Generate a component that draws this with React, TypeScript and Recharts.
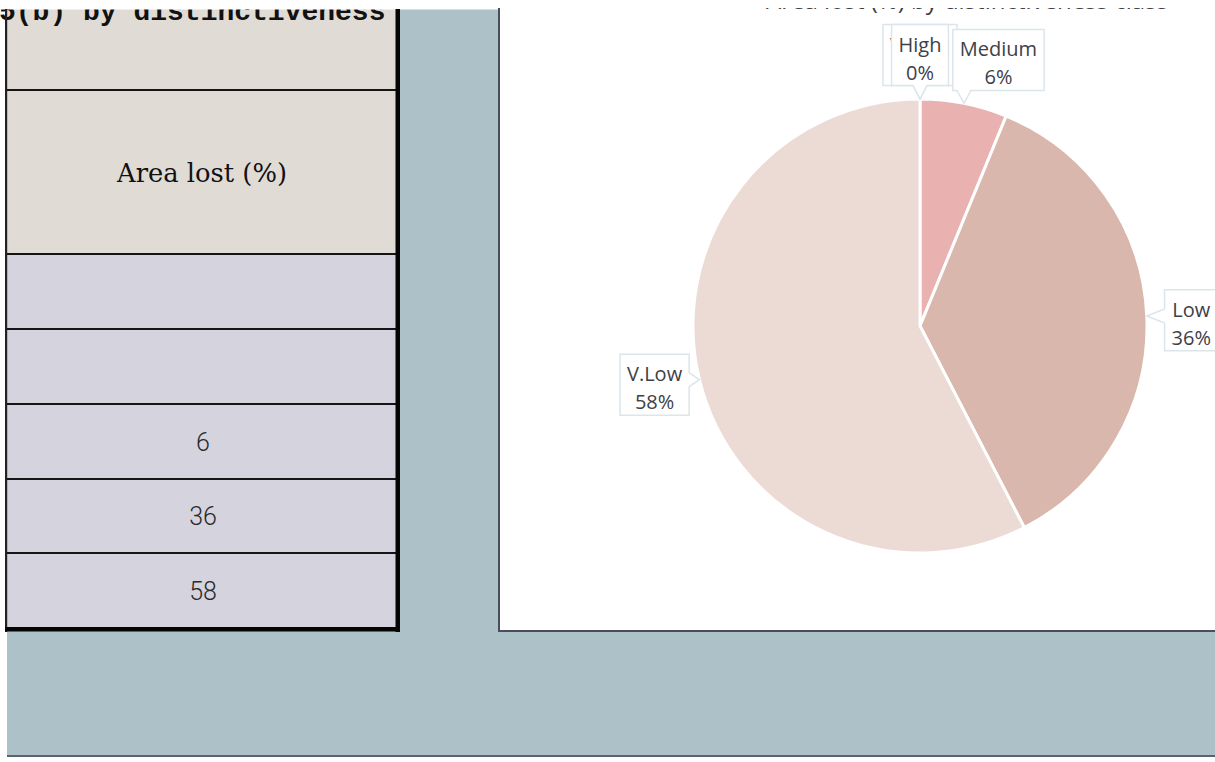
import React from 'react';
import { PieChart, Pie, Cell } from 'recharts';

// ---- data ----
const categories = ['V.High', 'High', 'Medium', 'Low', 'V.Low'];
const areaLost = [0, 0, 6.2, 36.2, 57.6];
const tableCells = ['', '', '6', '36', '58'];
const headerLabel = 'Area lost (%)';
const tableTitle = '5(b) by distinctiveness';
const chartTitle = 'Area lost (%) by distinctiveness class';

// ---- styles ----
const sliceColors = ['#c98f8e', '#e3a3a2', '#e9b1b0', '#d9b7ac', '#ecdbd5'];
const labelNudge: [number, number][] = [[0, -3], [0, -3], [25, 5], [6, 6], [5, -7]];
const LABEL_FONT_SIZE = 20;
const LABEL_FONT = `${LABEL_FONT_SIZE}px "Open Sans"`;

const chartData = categories.map((name, i) => ({ name, value: areaLost[i], fill: sliceColors[i] }));

let measureCtx: CanvasRenderingContext2D | null = null;
function textWidth(s: string): number {
  if (!measureCtx) {
    const c = document.createElement('canvas');
    measureCtx = c.getContext('2d');
  }
  if (!measureCtx) return s.length * LABEL_FONT_SIZE * 0.55;
  measureCtx.font = LABEL_FONT;
  return measureCtx.measureText(s).width;
}

const RAD = Math.PI / 180;

function calloutPath(L: number, T: number, R: number, B: number, tx: number, ty: number, half = 7): string {
  const clamp = (v: number, a: number, b: number) => Math.max(a, Math.min(b, v));
  if (ty > B) {
    const c = clamp(tx, L + half + 4, R - half - 4);
    return `M${L},${T}H${R}V${B}H${c + half}L${tx},${ty}L${c - half},${B}H${L}Z`;
  }
  if (ty < T) {
    const c = clamp(tx, L + half + 4, R - half - 4);
    return `M${L},${T}H${c - half}L${tx},${ty}L${c + half},${T}H${R}V${B}H${L}Z`;
  }
  if (tx < L) {
    const c = clamp(ty, T + half + 4, B - half - 4);
    return `M${L},${T}H${R}V${B}H${L}V${c + half}L${tx},${ty}L${L},${c - half}Z`;
  }
  const c = clamp(ty, T + half + 4, B - half - 4);
  return `M${L},${T}H${R}V${c - half}L${tx},${ty}L${R},${c + half}V${B}H${L}Z`;
}

function renderCallout(props: any) {
  const { cx, cy, midAngle, outerRadius, percent, index, name } = props;
  const pct = `${Math.round(percent * 100)}%`;
  const w = Math.max(textWidth(String(name)), textWidth(pct)) + 14;
  const h = 61;
  const dx = Math.cos(-midAngle * RAD);
  const dy = Math.sin(-midAngle * RAD);
  const tipX = cx + outerRadius * dx;
  const tipY = cy + outerRadius * dy;
  const dist = 10.5 + (Math.abs(dx) * w) / 2 + (Math.abs(dy) * h) / 2;
  const [nx, ny] = labelNudge[index] ?? [0, 0];
  const bx = tipX + dx * dist + nx;
  const by = tipY + dy * dist + ny;
  const L = bx - w / 2;
  const R = bx + w / 2;
  const T = by - h / 2;
  const B = by + h / 2;
  return (
    <g key={`callout-${index}`}>
      <path d={calloutPath(L, T, R, B, tipX, tipY)} fill="#ffffff" stroke="#dce5ea" strokeWidth={1.5} />
      <text x={bx} y={T + 27} textAnchor="middle" fontFamily='"Open Sans"' fontSize={LABEL_FONT_SIZE} fill="#404048">
        {name}
      </text>
      <text x={bx} y={T + 55} textAnchor="middle" fontFamily='"Open Sans"' fontSize={LABEL_FONT_SIZE} fill="#404048">
        {pct}
      </text>
    </g>
  );
}

const rowEdges = [90, 254, 329, 404, 479, 553, 629];
const TABLE_L = 7;
const TABLE_R = 397;

export default function App() {
  const W = 1215;
  const H = 762;
  const dataRows = tableCells.map((t, i) => ({ t, top: rowEdges[i + 1], bottom: rowEdges[i + 2] }));
  return (
    <div style={{ position: 'absolute', left: 0, top: 0, width: W, height: H, overflow: 'hidden', background: '#ffffff' }}>
      <svg width={W} height={H} style={{ position: 'absolute', left: 0, top: 0 }}>
        {/* page background */}
        <rect x={7} y={9} width={W - 7} height={746} fill="#adc2c8" />
        <rect x={7} y={755} width={W - 7} height={2} fill="#5d6270" />
        {/* table cells */}
        <rect x={TABLE_L} y={9} width={TABLE_R - TABLE_L} height={254 - 9} fill="#e0dcd5" />
        <rect x={TABLE_L} y={254} width={TABLE_R - TABLE_L} height={629 - 254} fill="#d5d4de" />
        {/* cropped table title */}
        <text x={-1} y={19.5} fontFamily='"Liberation Mono"' fontWeight={700} fontSize={28} fill="#111">
          {tableTitle}
        </text>
        <rect x={0} y={0} width={499} height={9.5} fill="#ffffff" />
        {/* table lines */}
        {rowEdges.slice(0, rowEdges.length - 1).map((y) => (
          <rect key={`rl-${y}`} x={TABLE_L} y={y - 1} width={TABLE_R - TABLE_L} height={2} fill="#151515" />
        ))}
        <rect x={5} y={9} width={2.2} height={623} fill="#222" />
        <rect x={395.5} y={9} width={4.5} height={623} fill="#050505" />
        <rect x={5} y={627} width={395} height={4.5} fill="#050505" />
        {/* header text */}
        <text
          x={(TABLE_L + TABLE_R) / 2}
          y={182}
          textAnchor="middle"
          fontFamily='"DejaVu Serif"'
          fontSize={26}
          textLength={170}
          lengthAdjust="spacingAndGlyphs"
          fill="#111"
        >
          {headerLabel}
        </text>
        {dataRows.map((r, i) =>
          r.t ? (
            <text
              key={`cell-${i}`}
              x={(TABLE_L + TABLE_R) / 2 + 1}
              y={(r.top + r.bottom) / 2 + 9}
              textAnchor="middle"
              fontFamily="Roboto"
              fontWeight={300}
              fontSize={25}
              fill="#2a2a2a"
            >
              {r.t}
            </text>
          ) : null
        )}
        {/* chart panel */}
        <rect x={500} y={0} width={W - 500} height={630} fill="#ffffff" />
        <text x={766} y={9} fontFamily='"Open Sans"' fontSize={24} fill="#404048">
          {chartTitle}
        </text>
        <rect x={500} y={0} width={W - 500} height={8} fill="#ffffff" />
        <rect x={498} y={8} width={2} height={624} fill="#4a4e5c" />
        <rect x={498} y={630} width={W - 498} height={2} fill="#4a4e5c" />
      </svg>
      <div style={{ position: 'absolute', left: 500, top: 9 }}>
        <PieChart width={715} height={620} margin={{ top: 0, right: 0, bottom: 0, left: 0 }}>
          <Pie
            data={chartData}
            dataKey="value"
            nameKey="name"
            cx={420}
            cy={317}
            outerRadius={227}
            startAngle={90}
            endAngle={-270}
            stroke="#ffffff"
            strokeWidth={3}
            label={renderCallout}
            labelLine={false}
            isAnimationActive={false}
          >
            {chartData.map((d) => (
              <Cell key={d.name} fill={d.fill} />
            ))}
          </Pie>
        </PieChart>
      </div>
    </div>
  );
}
